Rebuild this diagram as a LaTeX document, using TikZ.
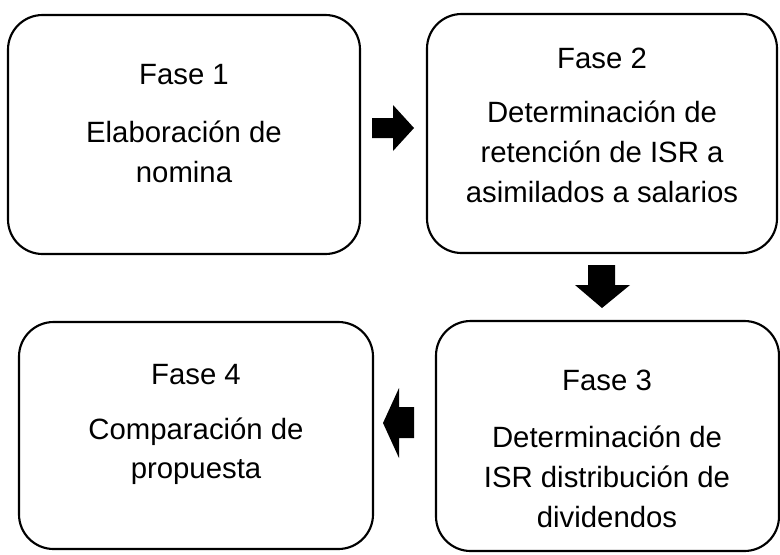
\documentclass[tikz,border=0pt]{standalone}
\usepackage{fontspec}
\setmainfont{Liberation Sans}
\begin{document}
\begin{tikzpicture}[x=0.75pt,y=-0.75pt,
  fasebox/.style={draw=black,line width=1.6pt,rounded corners=26pt,fill=white},
  lbl/.style={font=\fontsize{22}{26}\selectfont,inner sep=0pt,anchor=center},
  blockarrow/.style={fill=black,draw=none}]
\useasboundingbox (0,0) rectangle (780,554);
% boxes
\draw[fasebox] (8,15) rectangle (360,254);
\node[inner sep=0pt] (b1) at (184,134) {};
\draw[fasebox] (427,14) rectangle (777,253);
\node[inner sep=0pt] (b2) at (602,134) {};
\draw[fasebox] (436,321) rectangle (779,551);
\node[inner sep=0pt] (b3) at (607,436) {};
\draw[fasebox] (19,322) rectangle (373,549);
\node[inner sep=0pt] (b4) at (196,436) {};
% texts
\node[lbl] (t1a) at (184,75) {Fase 1};
\node[lbl] (t1b) at (184,132) {Elaboración de};
\node[lbl] (t1c) at (184,172) {nomina};
\node[lbl] (t2a) at (602,58) {Fase 2};
\node[lbl] (t2b) at (602,112) {Determinación de};
\node[lbl] (t2c) at (602,152) {retención de ISR a};
\node[lbl] (t2d) at (602,192) {asimilados a salarios};
\node[lbl] (t3a) at (607,380) {Fase 3};
\node[lbl] (t3b) at (607,437) {Determinación de};
\node[lbl] (t3c) at (607,477) {ISR distribución de};
\node[lbl] (t3d) at (607,517) {dividendos};
\node[lbl] (t4a) at (196,375) {Fase 4};
\node[lbl] (t4b) at (196,432) {Comparación de};
\node[lbl] (t4c) at (196,472) {propuesta};
% block arrows
\fill[blockarrow] (372,118) -- (393,118) -- (393,105) -- (414,128) -- (393,151) -- (393,138) -- (372,138) -- cycle;
\fill[blockarrow] (588,265) -- (615,265) -- (615,285) -- (630,285) -- (602,308) -- (575,285) -- (588,285) -- cycle;
\fill[blockarrow] (414,407) -- (399,407) -- (399,388) -- (383,423) -- (399,458) -- (399,438) -- (414,438) -- cycle;
\end{tikzpicture}
\end{document}
